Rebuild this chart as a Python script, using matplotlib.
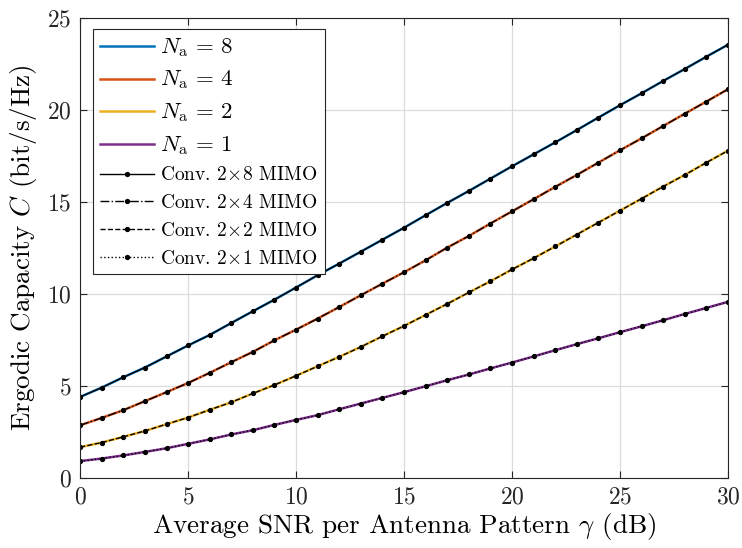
import numpy as np
import matplotlib
matplotlib.use("Agg")
import matplotlib.pyplot as plt

plt.rcParams['font.family'] = ['cmr10', 'DejaVu Serif']
plt.rcParams['mathtext.fontset'] = 'cm'
plt.rcParams['axes.formatter.use_mathtext'] = True

snr_db = list(range(0, 31))

na8 = [4.40, 4.91, 5.47, 6.00, 6.60, 7.20, 7.77, 8.42, 9.06, 9.69, 10.35,
       11.02, 11.65, 12.30, 12.95, 13.60, 14.28, 14.95, 15.60, 16.27, 16.94,
       17.59, 18.24, 18.91, 19.59, 20.26, 20.91, 21.58, 22.23, 22.90, 23.55]
na4 = [2.86, 3.26, 3.68, 4.17, 4.66, 5.16, 5.71, 6.29, 6.85, 7.48, 8.06,
       8.66, 9.29, 9.93, 10.56, 11.18, 11.83, 12.52, 13.15, 13.83, 14.49,
       15.15, 15.82, 16.47, 17.14, 17.81, 18.46, 19.13, 19.80, 20.46, 21.13]
na2 = [1.67, 1.92, 2.23, 2.55, 2.92, 3.28, 3.70, 4.11, 4.59, 5.05, 5.55,
       6.07, 6.58, 7.12, 7.70, 8.26, 8.86, 9.46, 10.08, 10.69, 11.33,
       11.94, 12.58, 13.23, 13.88, 14.53, 15.18, 15.84, 16.47, 17.14, 17.79]
na1 = [0.91, 1.05, 1.22, 1.41, 1.61, 1.85, 2.09, 2.36, 2.59, 2.88, 3.15,
       3.41, 3.73, 4.04, 4.35, 4.66, 4.98, 5.31, 5.62, 5.95, 6.27,
       6.60, 6.94, 7.27, 7.59, 7.92, 8.24, 8.57, 8.91, 9.24, 9.57]

conv_2x8 = list(na8)
conv_2x4 = list(na4)
conv_2x2 = list(na2)
conv_2x1 = list(na1)

na_labels = [r'$N_{\rm a}$ = 8', r'$N_{\rm a}$ = 4', r'$N_{\rm a}$ = 2', r'$N_{\rm a}$ = 1']
conv_labels = [r'Conv. $2\!\times\!8$ MIMO', r'Conv. $2\!\times\!4$ MIMO',
               r'Conv. $2\!\times\!2$ MIMO', r'Conv. $2\!\times\!1$ MIMO']
xticks = [0, 5, 10, 15, 20, 25, 30]
yticks = [0, 5, 10, 15, 20, 25]

colors = ['#0072BD', '#D95319', '#EDB120', '#7E2F8E']
styles = ['-', '-.', '--', ':']

fig = plt.figure(figsize=(7.42, 5.48), dpi=100)
ax = fig.add_axes([0.108, 0.128, 0.873, 0.839])

for y, c, lab in zip([na8, na4, na2, na1], colors, na_labels):
    ax.plot(snr_db, y, color=c, lw=1.8, label=lab)
for y, ls, lab in zip([conv_2x8, conv_2x4, conv_2x2, conv_2x1], styles, conv_labels):
    ax.plot(snr_db, y, color='black', lw=1.0, ls=ls, marker='o', markersize=2.8,
            label=lab)

ax.set_xlim(0, 30)
ax.set_ylim(0, 25)
ax.set_xticks(xticks)
ax.set_yticks(yticks)
ax.grid(True, color='#dcdcdc', lw=0.9)
ax.set_axisbelow(True)
ax.tick_params(direction='in', top=True, right=True, labelsize=17, length=5,
               colors='#262626', pad=6)
for s in ax.spines.values():
    s.set_color('#262626')
    s.set_linewidth(0.8)

ax.set_xlabel(r'Average SNR per Antenna Pattern $\gamma$ (dB)', fontsize=19.5, labelpad=2)
ax.set_ylabel(r'Ergodic Capacity $C$ (bit/s/Hz)', fontsize=19.5, labelpad=6)

leg = ax.legend(loc='upper left', fontsize=14, frameon=True, fancybox=False,
                edgecolor='#262626', framealpha=1, handlelength=2.8,
                labelspacing=0.5, borderpad=0.35, handletextpad=0.3,
                borderaxespad=0, bbox_to_anchor=(0.02, 0.976))
leg.get_frame().set_linewidth(0.8)
for t in leg.get_texts()[:4]:
    t.set_fontsize(16.5)

fig.savefig('out.png', dpi=100)
